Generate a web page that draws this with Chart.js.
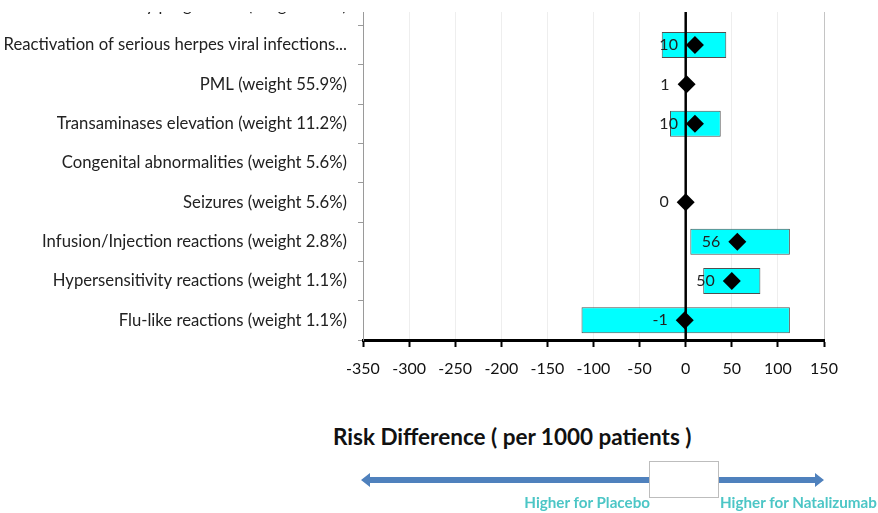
<!DOCTYPE html>
<html>
<head>
<meta charset="utf-8">
<script src="https://cdn.jsdelivr.net/npm/chart.js@4/dist/chart.umd.min.js"></script>
<style>
  html, body { margin: 0; padding: 0; background: #fff; }
  body { width: 878px; height: 513px; position: relative; overflow: hidden; font-family: Lato, sans-serif; }
  #wrap { position: absolute; left: 0; top: -14px; width: 878px; }
  #mask { position: absolute; left: 0; top: 0; width: 878px; height: 12px; background: #fff; }
  #title { position: absolute; left: 333px; top: 423px; font: bold 22.5px Lato, sans-serif; color: #111; white-space: nowrap; }
  .note { position: absolute; top: 493px; font: bold 15.2px Lato, sans-serif; color: #4cc6c6; white-space: nowrap; }
  #left-note { right: 228px; text-align: right; }
  #right-note { left: 720px; }
  svg { position: absolute; left: 0; top: 0; }
</style>
</head>
<body>
<div id="wrap"><canvas id="forest" width="878" height="394"></canvas></div>
<div id="mask"></div>
<div id="title">Risk Difference ( per 1000 patients )</div>
<svg width="878" height="513">
  <polygon fill="#4f81bd" points="361,480 370,473 370,477 815,477 815,473 824,480 815,487 815,483 370,483 370,487"/>
  <rect x="649.5" y="461.5" width="69" height="36" fill="#fff" stroke="#bdbdbd" stroke-width="1"/>
</svg>
<div class="note" id="left-note">Higher for Placebo</div>
<div class="note" id="right-note">Higher for Natalizumab</div>

<script>
// Outcomes, top to bottom
const categories = [
  'Disability progression (weight 5.6%)',
  'Reactivation of serious herpes viral infections...',
  'PML (weight 55.9%)',
  'Transaminases elevation (weight 11.2%)',
  'Congenital abnormalities (weight 5.6%)',
  'Seizures (weight 5.6%)',
  'Infusion/Injection reactions (weight 2.8%)',
  'Hypersensitivity reactions (weight 1.1%)',
  'Flu-like reactions (weight 1.1%)'
];

// Risk difference per 1000 patients (point estimate) and its interval
const riskDifference = [null, 10, 1, 10, null, 0, 56, 50, -1];
const intervalLow    = [null, -26, null, -17, null, null, 5, 19, -113];
const intervalHigh   = [null, 44, null, 38, null, null, 113, 81, 113];

// Horizontal axis range and tick step
const axisMin = -350;
const axisMax = 150;
const axisStep = 50;

const intervals = categories.map((_, i) =>
  intervalLow[i] == null ? null : [intervalLow[i], intervalHigh[i]]);

// Thick reference line at zero, drawn above the interval bars but below the diamonds
const zeroLine = {
  id: 'zeroLine',
  beforeDatasetDraw(chart, args) {
    if (args.index !== 0) return;
    const { ctx, chartArea } = chart;
    const x = chart.scales.x.getPixelForValue(0);
    ctx.save();
    ctx.strokeStyle = '#000';
    ctx.lineWidth = 2.5;
    ctx.beginPath();
    ctx.moveTo(x, chartArea.top);
    ctx.lineTo(x, chartArea.bottom);
    ctx.stroke();
    ctx.restore();
  }
};

// Value labels to the left of each diamond
const valueLabels = {
  id: 'valueLabels',
  afterDatasetsDraw(chart) {
    const { ctx } = chart;
    const meta = chart.getDatasetMeta(0);
    const values = chart.data.datasets[0].data;
    ctx.save();
    ctx.font = '16px Lato, sans-serif';
    ctx.fillStyle = '#222';
    ctx.textAlign = 'right';
    ctx.textBaseline = 'middle';
    meta.data.forEach((pt, i) => {
      if (values[i] == null) return;
      ctx.fillText(String(values[i]), pt.x - 17, pt.y);
    });
    ctx.restore();
  }
};

const PLOT_TOP = -14;      // page y of the plot's top edge (the first row runs off the top)
const PLOT_HEIGHT = 354;   // plot height in px
const X_AXIS_HEIGHT = 40;

const canvas = document.getElementById('forest');
const chart = new Chart(canvas, {
  type: 'bar',
  data: {
    labels: categories,
    datasets: [
      {
        type: 'line',
        label: 'Risk difference',
        data: riskDifference,
        showLine: false,
        pointStyle: 'rectRot',
        pointRadius: 9,
        pointBackgroundColor: '#000',
        pointBorderColor: '#000',
        pointBorderWidth: 0
      },
      {
        type: 'bar',
        label: 'Interval',
        data: intervals,
        backgroundColor: '#00ffff',
        borderColor: '#505050',
        borderWidth: 1,
        borderSkipped: false,
        barPercentage: 0.66,
        categoryPercentage: 1
      }
    ]
  },
  options: {
    indexAxis: 'y',
    responsive: false,
    maintainAspectRatio: false,
    animation: false,
    devicePixelRatio: 1,
    layout: { padding: { top: 0, right: 54, bottom: 0, left: 0 } },
    plugins: { legend: { display: false }, tooltip: { enabled: false } },
    scales: {
      x: {
        type: 'linear',
        min: axisMin,
        max: axisMax,
        ticks: { stepSize: axisStep, color: '#111', font: { family: 'Lato', size: 16 }, padding: 12 },
        grid: {
          color: c => c.tick && c.tick.value === axisMax ? '#c4c4c4'
                    : (c.tick && c.tick.value === 0 ? 'rgba(0,0,0,0)' : '#eeeeee'),
          lineWidth: 1,
          tickColor: '#000',
          tickLength: 7,
          tickWidth: 2
        },
        border: { color: '#000', width: 3 },
        afterFit: s => { s.height = X_AXIS_HEIGHT; }
      },
      y: {
        type: 'category',
        ticks: { color: '#222', font: { family: 'Lato', size: 16.7 }, padding: 11, autoSkip: false },
        grid: { offset: true, drawOnChartArea: false, color: '#9a9a9a', tickColor: '#9a9a9a', tickLength: 5 },
        border: { color: '#9a9a9a', width: 1 },
        afterFit: s => { s.width = 363; }
      }
    }
  },
  plugins: [zeroLine, valueLabels]
});

// Size the canvas so the plot area gets the wanted height, then place it on the page
const pad = chart.chartArea.top;
chart.resize(878, Math.round(pad + PLOT_HEIGHT + X_AXIS_HEIGHT));
document.getElementById('wrap').style.top = (PLOT_TOP - chart.chartArea.top) + 'px';
</script>
</body>
</html>
